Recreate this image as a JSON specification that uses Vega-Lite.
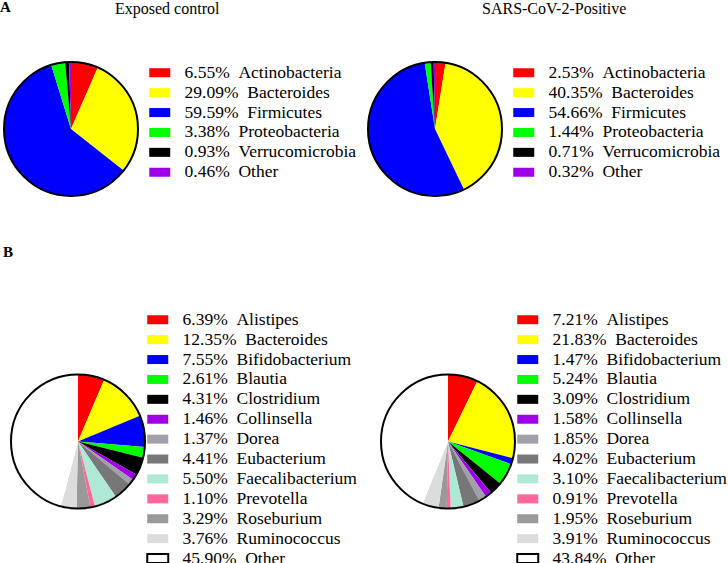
{
  "$schema": "https://vega.github.io/schema/vega-lite/v6.json",
  "background": "white",
  "padding": {"left": 0, "top": 0, "right": 0, "bottom": 0},
  "datasets": {
    "phylum_control": [
      {"taxon": "Actinobacteria", "pct": 6.55, "ord": 0},
      {"taxon": "Bacteroides", "pct": 29.09, "ord": 1},
      {"taxon": "Firmicutes", "pct": 59.59, "ord": 2},
      {"taxon": "Proteobacteria", "pct": 3.38, "ord": 3},
      {"taxon": "Verrucomicrobia", "pct": 0.93, "ord": 4},
      {"taxon": "Other", "pct": 0.46, "ord": 5}
    ],
    "phylum_positive": [
      {"taxon": "Actinobacteria", "pct": 2.53, "ord": 0},
      {"taxon": "Bacteroides", "pct": 40.35, "ord": 1},
      {"taxon": "Firmicutes", "pct": 54.66, "ord": 2},
      {"taxon": "Proteobacteria", "pct": 1.44, "ord": 3},
      {"taxon": "Verrucomicrobia", "pct": 0.71, "ord": 4},
      {"taxon": "Other", "pct": 0.32, "ord": 5}
    ],
    "genus_control": [
      {"taxon": "Alistipes", "pct": 6.39, "ord": 0},
      {"taxon": "Bacteroides", "pct": 12.35, "ord": 1},
      {"taxon": "Bifidobacterium", "pct": 7.55, "ord": 2},
      {"taxon": "Blautia", "pct": 2.61, "ord": 3},
      {"taxon": "Clostridium", "pct": 4.31, "ord": 4},
      {"taxon": "Collinsella", "pct": 1.46, "ord": 5},
      {"taxon": "Dorea", "pct": 1.37, "ord": 6},
      {"taxon": "Eubacterium", "pct": 4.41, "ord": 7},
      {"taxon": "Faecalibacterium", "pct": 5.50, "ord": 8},
      {"taxon": "Prevotella", "pct": 1.10, "ord": 9},
      {"taxon": "Roseburium", "pct": 3.29, "ord": 10},
      {"taxon": "Ruminococcus", "pct": 3.76, "ord": 11},
      {"taxon": "Other", "pct": 45.90, "ord": 12}
    ],
    "genus_positive": [
      {"taxon": "Alistipes", "pct": 7.21, "ord": 0},
      {"taxon": "Bacteroides", "pct": 21.83, "ord": 1},
      {"taxon": "Bifidobacterium", "pct": 1.47, "ord": 2},
      {"taxon": "Blautia", "pct": 5.24, "ord": 3},
      {"taxon": "Clostridium", "pct": 3.09, "ord": 4},
      {"taxon": "Collinsella", "pct": 1.58, "ord": 5},
      {"taxon": "Dorea", "pct": 1.85, "ord": 6},
      {"taxon": "Eubacterium", "pct": 4.02, "ord": 7},
      {"taxon": "Faecalibacterium", "pct": 3.10, "ord": 8},
      {"taxon": "Prevotella", "pct": 0.91, "ord": 9},
      {"taxon": "Roseburium", "pct": 1.95, "ord": 10},
      {"taxon": "Ruminococcus", "pct": 3.91, "ord": 11},
      {"taxon": "Other", "pct": 43.84, "ord": 12}
    ]
  },
  "vconcat": [
    {
      "title": {"text": "A", "anchor": "start", "fontWeight": "bold", "fontSize": 15, "offset": -26, "baseline": "alphabetic"},
      "spacing": 5,
      "resolve": {"scale": {"color": "independent", "theta": "independent"}, "legend": {"color": "independent"}},
      "hconcat": [
        {
          "width": 136, "height": 134,
          "title": {"text": "Exposed control", "anchor": "start", "dx": 115, "offset": 28, "baseline": "alphabetic"},
          "data": {"name": "phylum_control"},
          "transform": [{"calculate": "format(datum.pct, '.2f') + '%\u00a0\u00a0' + datum.taxon", "as": "label"}],
          "layer": [
            {
              "mark": {"type": "arc", "outerRadius": 67},
              "encoding": {
                "theta": {"field": "pct", "type": "quantitative", "stack": true},
                "order": {"field": "ord", "type": "quantitative"},
                "color": {"field": "label", "type": "nominal", "sort": {"field": "ord", "op": "min"},
                  "scale": {"range": ["#ff0000", "#ffff00", "#0000ff", "#00ff00", "#000000", "#a000e8"]},
                  "legend": {"title": null, "orient": "right", "offset": 9.5}}
              }
            },
            {
              "transform": [{"filter": "datum.ord == 0"}],
              "mark": {"type": "arc", "outerRadius": 67, "theta": 0, "theta2": 6.2832, "filled": false, "stroke": "black", "strokeWidth": 2},
              "encoding": {}
            }
          ]
        },
        {
          "width": 136, "height": 134,
          "title": {"text": "SARS-CoV-2-Positive", "anchor": "start", "dx": 118, "offset": 28, "baseline": "alphabetic"},
          "data": {"name": "phylum_positive"},
          "transform": [{"calculate": "format(datum.pct, '.2f') + '%\u00a0\u00a0' + datum.taxon", "as": "label"}],
          "layer": [
            {
              "mark": {"type": "arc", "outerRadius": 67},
              "encoding": {
                "theta": {"field": "pct", "type": "quantitative", "stack": true},
                "order": {"field": "ord", "type": "quantitative"},
                "color": {"field": "label", "type": "nominal", "sort": {"field": "ord", "op": "min"},
                  "scale": {"range": ["#ff0000", "#ffff00", "#0000ff", "#00ff00", "#000000", "#a000e8"]},
                  "legend": {"title": null, "orient": "right", "offset": 9.5}}
              }
            },
            {
              "transform": [{"filter": "datum.ord == 0"}],
              "mark": {"type": "arc", "outerRadius": 67, "theta": 0, "theta2": 6.2832, "filled": false, "stroke": "black", "strokeWidth": 2},
              "encoding": {}
            }
          ]
        }
      ]
    },
    {
      "title": {"text": "B", "anchor": "start", "fontWeight": "bold", "fontSize": 15, "offset": 37, "baseline": "alphabetic"},
      "spacing": 14,
      "resolve": {"scale": {"color": "independent", "theta": "independent"}, "legend": {"color": "independent"}},
      "hconcat": [
        {
          "width": 150, "height": 265,
          "data": {"name": "genus_control"},
          "transform": [{"calculate": "format(datum.pct, '.2f') + '%\u00a0\u00a0' + datum.taxon", "as": "label"}],
          "layer": [
            {
              "mark": {"type": "arc", "outerRadius": 67},
              "encoding": {
                "theta": {"field": "pct", "type": "quantitative", "stack": true},
                "order": {"field": "ord", "type": "quantitative"},
                "color": {"field": "label", "type": "nominal", "sort": {"field": "ord", "op": "min"},
                  "scale": {"range": ["#ff0000", "#ffff00", "#0000ff", "#00ff00", "#000000", "#a000e8", "#a0a0a8", "#777777", "#b0e8d8", "#ff6699", "#999999", "#dcdcdc", "#ffffff"]},
                  "legend": {"title": null, "orient": "right", "offset": -6,
                    "encode": {"symbols": {"update": {"stroke": {"signal": "indexof(datum.value, 'Other') >= 0 ? 'black' : 'transparent'"}, "strokeWidth": {"value": 2}}}}}}
              }
            },
            {
              "transform": [{"filter": "datum.ord == 0"}],
              "mark": {"type": "arc", "outerRadius": 67, "theta": 0, "theta2": 6.2832, "filled": false, "stroke": "black", "strokeWidth": 2},
              "encoding": {}
            }
          ]
        },
        {
          "width": 150, "height": 265,
          "data": {"name": "genus_positive"},
          "transform": [{"calculate": "format(datum.pct, '.2f') + '%\u00a0\u00a0' + datum.taxon", "as": "label"}],
          "layer": [
            {
              "mark": {"type": "arc", "outerRadius": 67},
              "encoding": {
                "theta": {"field": "pct", "type": "quantitative", "stack": true},
                "order": {"field": "ord", "type": "quantitative"},
                "color": {"field": "label", "type": "nominal", "sort": {"field": "ord", "op": "min"},
                  "scale": {"range": ["#ff0000", "#ffff00", "#0000ff", "#00ff00", "#000000", "#a000e8", "#a0a0a8", "#777777", "#b0e8d8", "#ff6699", "#999999", "#dcdcdc", "#ffffff"]},
                  "legend": {"title": null, "orient": "right", "offset": -6,
                    "encode": {"symbols": {"update": {"stroke": {"signal": "indexof(datum.value, 'Other') >= 0 ? 'black' : 'transparent'"}, "strokeWidth": {"value": 2}}}}}}
              }
            },
            {
              "transform": [{"filter": "datum.ord == 0"}],
              "mark": {"type": "arc", "outerRadius": 67, "theta": 0, "theta2": 6.2832, "filled": false, "stroke": "black", "strokeWidth": 2},
              "encoding": {}
            }
          ]
        }
      ]
    }
  ],
  "spacing": 45,
  "resolve": {"scale": {"color": "independent", "theta": "independent"}, "legend": {"color": "independent"}},
  "config": {
    "view": {"stroke": null},
    "font": "Liberation Serif",
    "title": {"font": "Liberation Serif", "fontSize": 16, "fontWeight": "normal", "color": "black"},
    "legend": {
      "labelFont": "Liberation Serif", "labelFontSize": 17.5, "labelColor": "black", "labelLimit": 400,
      "symbolType": "M-2.1,-0.9L2.1,-0.9L2.1,0.9L-2.1,0.9Z", "symbolSize": 100, "symbolStrokeWidth": 0,
      "symbolOpacity": 1, "rowPadding": 0.9, "labelOffset": 16, "padding": 2
    }
  }
}
